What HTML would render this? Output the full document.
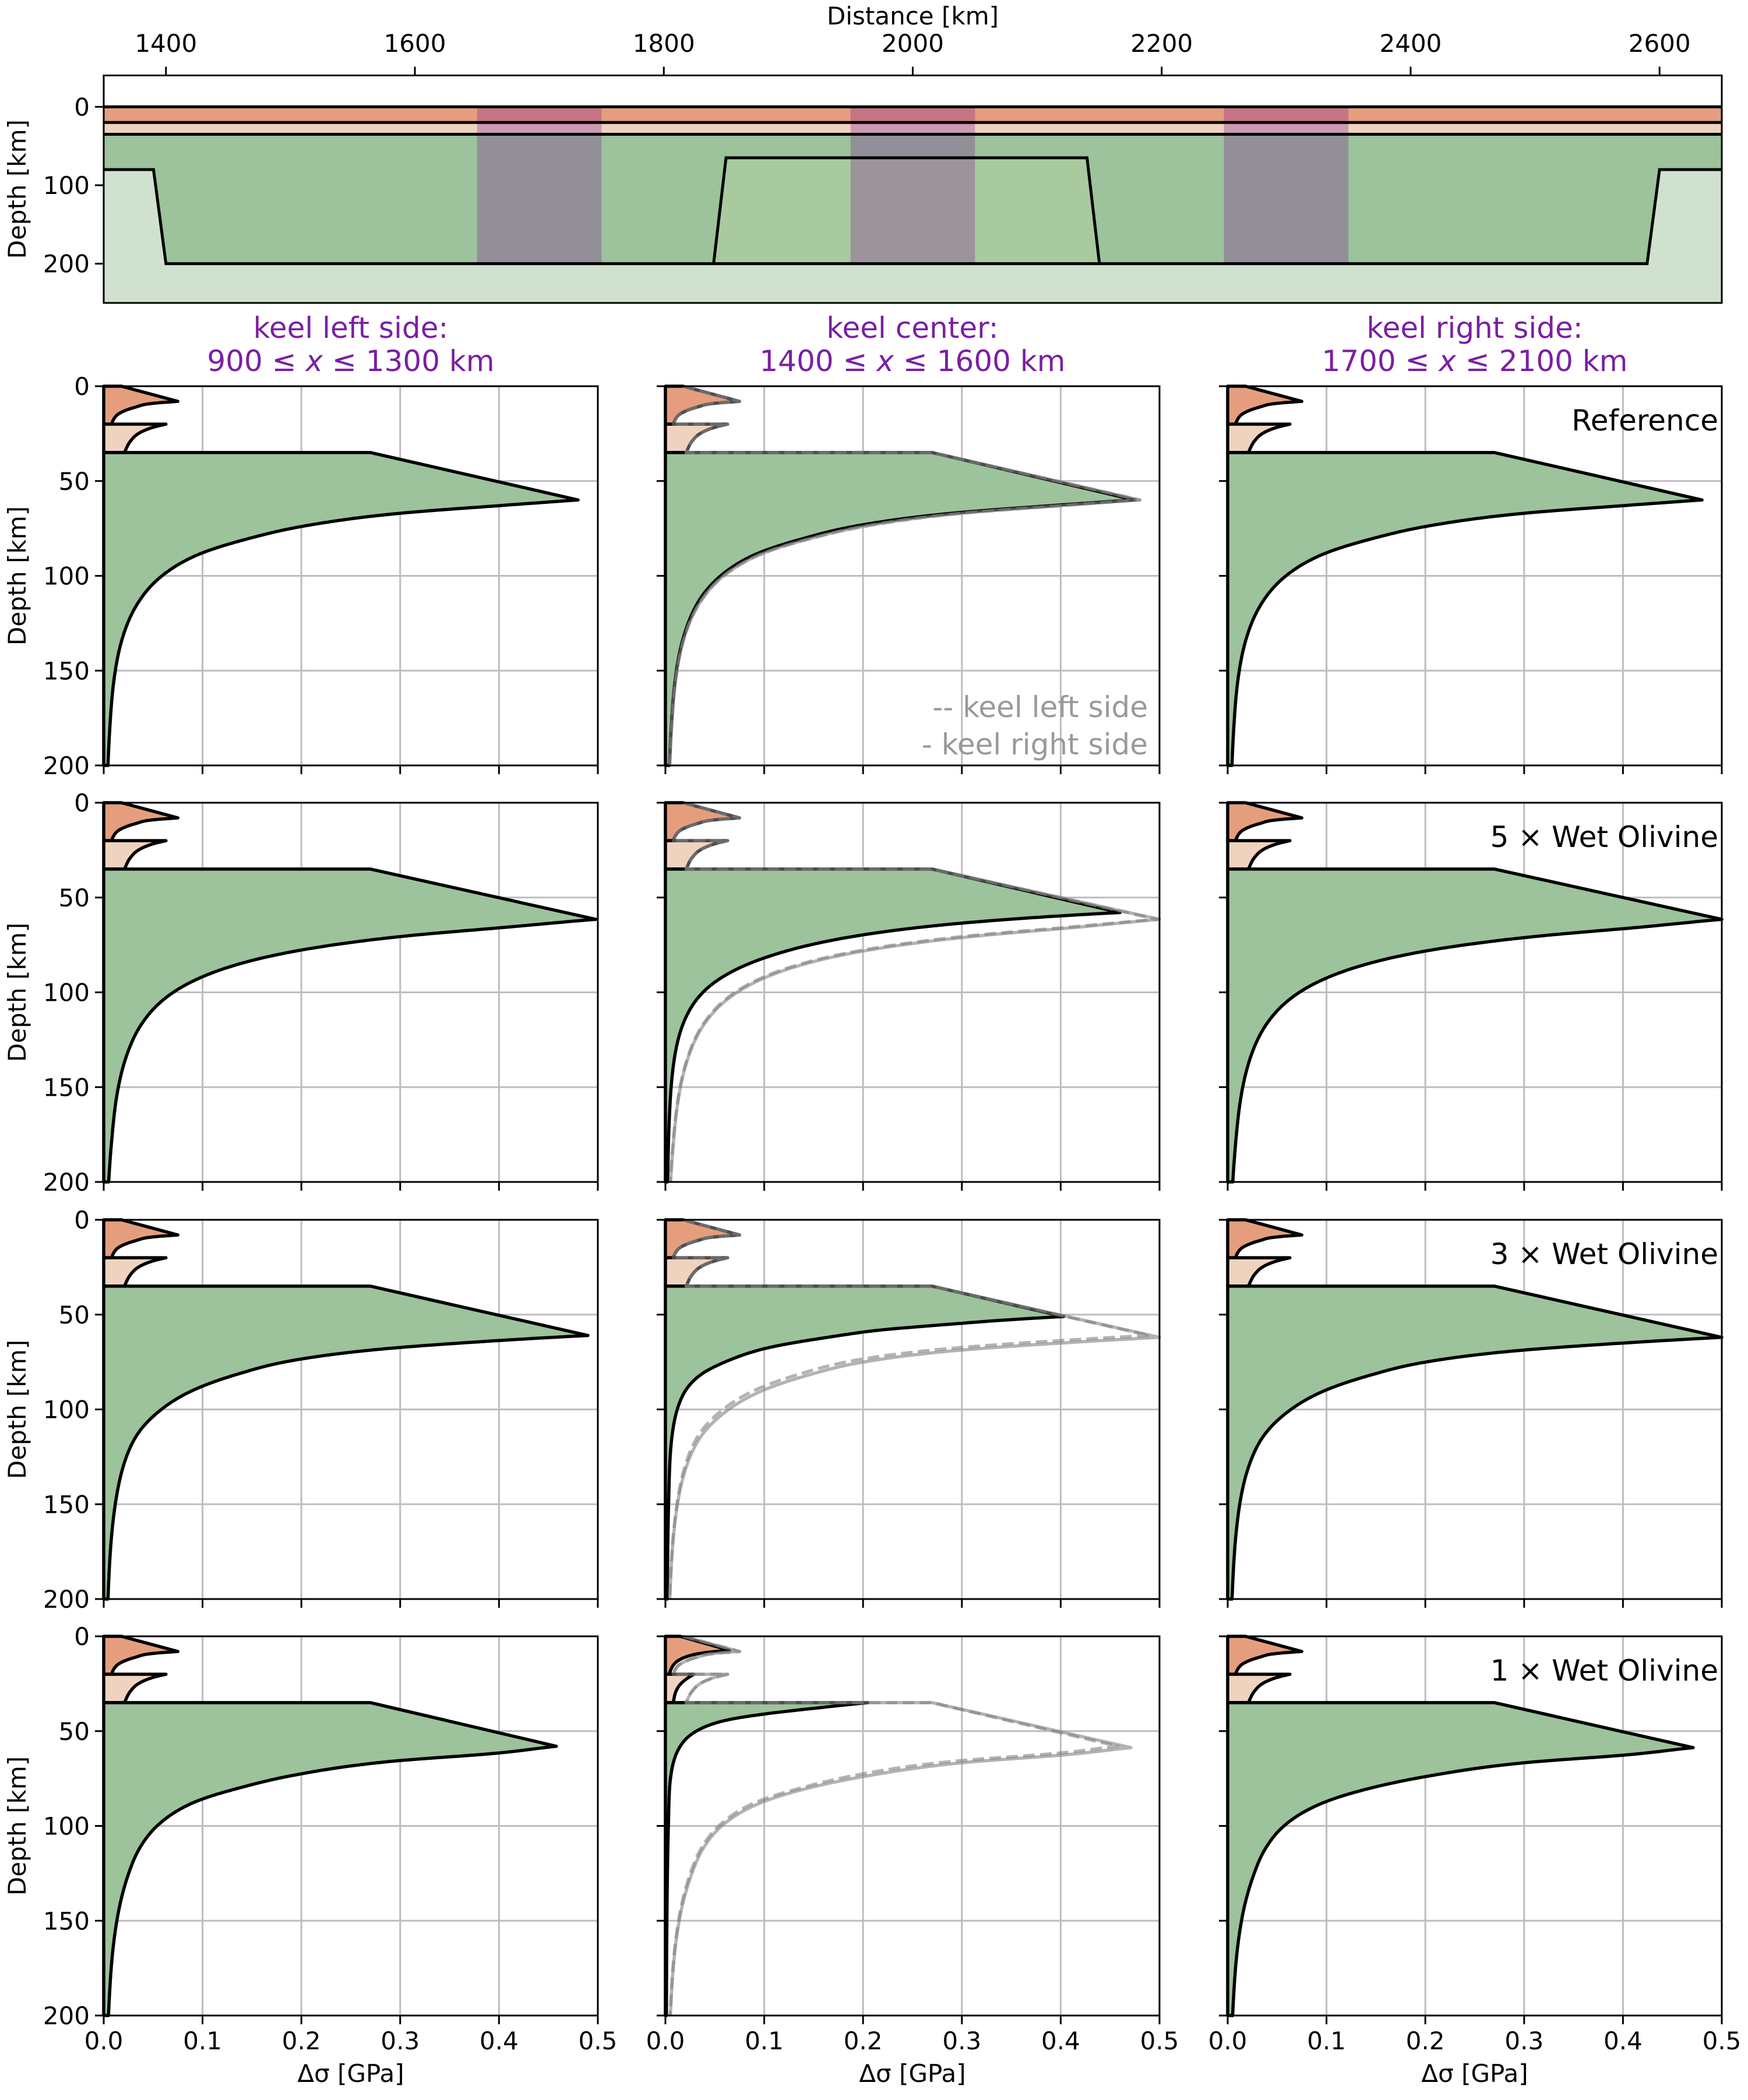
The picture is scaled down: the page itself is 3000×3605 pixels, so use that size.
<!DOCTYPE html>
<html><head><meta charset="utf-8">
<style>
html,body{margin:0;padding:0;background:#fff;}
svg text{font-family:"DejaVu Sans","Liberation Sans",sans-serif;}
</style></head>
<body>
<svg id="fig" xmlns="http://www.w3.org/2000/svg" width="3000" height="3600" viewBox="0 0 3000 3600"></svg>
<script>
// ---------- DATA ----------
const topXTicks = [1400,1600,1800,2000,2200,2400,2600];
const topYTicks = [0,100,200];
const layerBounds = [0,20,35];
const keelX = [1350,1390,1400,1840,1850,2140,2150,2590,2600,2650];
const keelD = [80,80,200,200,65,65,200,200,80,80];
const bandStart = [1650,1950,2250];
const bandEnd = [1750,2050,2350];
const xTicks = [0.0,0.1,0.2,0.3,0.4,0.5];
const xTickLabels = ['0.0','0.1','0.2','0.3','0.4','0.5'];
const yTicks = [0,50,100,150,200];
const colTitles1 = ['keel left side:','keel center:','keel right side:'];
const colRangeLo = ['900','1400','1700'];
const colRangeHi = ['1300','1600','2100'];
const rowLabels = ['Reference','5 × Wet Olivine','3 × Wet Olivine','1 × Wet Olivine'];
// crust profiles (depth km, stress GPa)
const upD = [0,8,9.4,10.9,13,15,17.5,20];
const upV = [0.018,0.075,0.044,0.033,0.021,0.014,0.010,0.008];
const loD = [20,22,25,29,35];
const loV = [0.063,0.048,0.035,0.027,0.021];
const up1cD = [0,7.4,9,11,14,17,20];
const up1cV = [0.015,0.065,0.035,0.020,0.010,0.006,0.004];
const lo1cD = [20,23,26,30,35];
const lo1cV = [0.029,0.020,0.014,0.010,0.008];
// mantle profiles
const refD = [35,60,63,67,74,81,88.5,100,114,128,142,160,180,200];
const refSideV = [0.27,0.48,0.40,0.30,0.20,0.142,0.097,0.059,0.035,0.022,0.0145,0.0092,0.0062,0.0043];
const refCenV = [0.27,0.475,0.39,0.29,0.19,0.135,0.092,0.056,0.033,0.021,0.0138,0.0088,0.0059,0.0041];
const r5D = [35,61.5,66,70.6,77.7,92,102,116.6,136,155,181,200];
const r5LeftV = [0.27,0.498,0.40,0.30,0.20,0.099,0.065,0.0385,0.0215,0.0131,0.0076,0.005];
const r5RightV = [0.27,0.50,0.41,0.31,0.206,0.102,0.067,0.0395,0.022,0.0135,0.0078,0.0052];
const r5CenD = [35,57.9,60,63.5,68.9,74,81,87.6,100,114,128,150,170,200];
const r5CenV = [0.27,0.46,0.39,0.30,0.21,0.155,0.105,0.073,0.038,0.020,0.0115,0.0058,0.0037,0.0022];
const r3RightD = [35,62,65,70,76,82,92,102,115,129,150,170,200];
const r3RightV = [0.27,0.50,0.40,0.273,0.19,0.144,0.09,0.059,0.035,0.022,0.0122,0.0077,0.0044];
const r3LeftD = [35,61,64,69,75,81,91,101,114,128,150,170,200];
const r3LeftV = [0.27,0.49,0.39,0.265,0.183,0.138,0.086,0.056,0.033,0.021,0.0117,0.0074,0.0043];
const r3CenD = [35,51,53,55.4,58,62,68,75.5,82,88.8,100,120,150,200];
const r3CenV = [0.27,0.403,0.34,0.28,0.22,0.164,0.10,0.058,0.035,0.022,0.012,0.0055,0.0032,0.0018];
const r1RightD = [35,58.7,62.7,66.7,74,80,87.3,100,113,127,150,170,200];
const r1RightV = [0.27,0.471,0.40,0.30,0.20,0.145,0.099,0.057,0.037,0.0255,0.0140,0.0088,0.0050];
const r1LeftD = [35,58,62,66,73.5,80,87,100,113,127,150,170,200];
const r1LeftV = [0.27,0.458,0.39,0.29,0.19,0.137,0.094,0.054,0.035,0.024,0.0133,0.0084,0.0048];
const r1CenD = [35,38,41,44.2,50.4,59.8,75.5,100,150,200];
const r1CenV = [0.205,0.15,0.10,0.062,0.030,0.013,0.005,0.003,0.0015,0.001];

// ---------- LAYOUT ----------
const NS='http://www.w3.org/2000/svg';
const svg=document.getElementById('fig');
function mk(parent,tag,attrs){const e=document.createElementNS(NS,tag);for(const k in attrs)e.setAttribute(k,attrs[k]);parent.appendChild(e);return e;}
const C_UP='#e49e7e',C_LO='#f0d3bf',C_MA='#9cc39b',C_LIGHT='#d0e2cf',C_KEEL='#a9c99f',C_BAND='rgba(126,25,148,0.306)';
const GRID='#bdbdbd';

const TL=178,TR=2955,TT=129.5,TB=520;
const tx=v=>TL+(v-1350)/1300*(TR-TL);
const ty=d=>TT+(d+40)/290*(TB-TT);
const topG=mk(svg,'g',{});


let e;
e=mk(topG,'rect',{x:TL,y:ty(0),width:TR-TL,height:ty(20)-ty(0),fill:C_UP});


e=mk(topG,'rect',{x:TL,y:ty(20),width:TR-TL,height:ty(35)-ty(20),fill:C_LO});


e=mk(topG,'rect',{x:TL,y:ty(35),width:TR-TL,height:TB-ty(35),fill:C_MA});


let pts=keelX.map((x,i)=>tx(x)+','+ty(keelD[i])).join(' ')+' '+tx(2650)+','+TB+' '+tx(1350)+','+TB;
e=mk(topG,'polygon',{points:pts,fill:C_LIGHT});


pts=[3,4,5,6].map(i=>tx(keelX[i])+','+ty(keelD[i])).join(' ');
e=mk(topG,'polygon',{points:pts,fill:C_KEEL});


for(let i=0;i<bandStart.length;i++){
  e=mk(topG,'rect',{x:tx(bandStart[i]),y:ty(0),width:tx(bandEnd[i])-tx(bandStart[i]),height:ty(200)-ty(0),fill:C_BAND});
  
  
}
for(const d of layerBounds){
  e=mk(topG,'line',{x1:TL,x2:TR,y1:ty(d),y2:ty(d),stroke:'#000','stroke-width':5});
  
  
}
e=mk(topG,'polyline',{points:keelX.map((x,i)=>tx(x)+','+ty(keelD[i])).join(' '),fill:'none',stroke:'#000','stroke-width':5});


e=mk(topG,'line',{x1:tx(1840),x2:tx(2150),y1:ty(200),y2:ty(200),stroke:'#000','stroke-width':5});


e=mk(topG,'rect',{x:TL,y:TT,width:TR-TL,height:TB-TT,fill:'none',stroke:'#000','stroke-width':3});


for(const v of topXTicks){
  e=mk(topG,'line',{x1:tx(v),x2:tx(v),y1:TT,y2:TT-15,stroke:'#000','stroke-width':3});
  
  
  e=mk(topG,'text',{x:tx(v),y:89,'font-size':42,'text-anchor':'middle'});
  e.textContent=v;
  
  
}
for(const d of topYTicks){
  e=mk(topG,'line',{x1:TL,x2:TL-15,y1:ty(d),y2:ty(d),stroke:'#000','stroke-width':3});
  
  
  e=mk(topG,'text',{x:TL-24,y:ty(d)+15,'font-size':42,'text-anchor':'end'});
  e.textContent=d;
  
  
}
e=mk(topG,'text',{x:(TL+TR)/2,y:42,'font-size':42,'text-anchor':'middle'});
e.textContent='Distance [km]';


e=mk(topG,'text',{x:0,y:0,'font-size':42,'text-anchor':'middle',transform:'translate(44,'+((TT+TB)/2)+') rotate(-90)'});
e.textContent='Depth [km]';



// ---------- PROFILE PANELS ----------
const colLeft=[178,1142,2107], rowTop=[663,1378,2094,2809], PW=848, PH=651;
const colNames=['left','center','right'];
for(let c=0;c<3;c++){
  const cx=colLeft[c]+PW/2;
  e=mk(svg,'text',{x:cx,y:580,'font-size':50,'text-anchor':'middle',fill:'#7b1fa2'});
  e.textContent=colTitles1[c];
  
  
  e=mk(svg,'text',{x:cx,y:637,'font-size':50,'text-anchor':'middle',fill:'#7b1fa2'});
  const t1=mk(e,'tspan',{});t1.textContent=colRangeLo[c]+' ≤ ';
  const t2=mk(e,'tspan',{'font-style':'italic'});t2.textContent='x';
  const t3=mk(e,'tspan',{});t3.textContent=' ≤ '+colRangeHi[c]+' km';
  
  
}

// monotone (Fritsch-Carlson) interpolation of ln(value) vs depth
function monoSample(D,V){
  const n=D.length, L=V.map(v=>Math.log(v));
  if(n<2) return [[V[0],D[0]]];
  const dk=[],h=[];
  for(let i=0;i<n-1;i++){h.push(D[i+1]-D[i]);dk.push((L[i+1]-L[i])/h[i]);}
  const m=new Array(n);
  m[0]=dk[0];m[n-1]=dk[n-2];
  for(let i=1;i<n-1;i++){ m[i]=(dk[i-1]*dk[i]<=0)?0:(h[i]*dk[i-1]+h[i-1]*dk[i])/(h[i-1]+h[i]); }
  for(let i=0;i<n-1;i++){
    if(dk[i]===0){m[i]=0;m[i+1]=0;continue;}
    const a=m[i]/dk[i],b=m[i+1]/dk[i],s=a*a+b*b;
    if(s>9){const t=3/Math.sqrt(s);m[i]=t*a*dk[i];m[i+1]=t*b*dk[i];}
  }
  const out=[];
  for(let i=0;i<n-1;i++){
    const steps=Math.max(2,Math.ceil(h[i]/0.4));
    for(let s=0;s<steps;s++){
      const t=s/steps,t2=t*t,t3=t2*t;
      const y=(2*t3-3*t2+1)*L[i]+(t3-2*t2+t)*h[i]*m[i]+(-2*t3+3*t2)*L[i+1]+(t3-t2)*h[i]*m[i+1];
      out.push([Math.exp(y),D[i]+t*h[i]]);
    }
  }
  out.push([V[n-1],D[n-1]]);
  return out;
}
function layerPts(Ly,X,Y){
  const p=[];
  for(let i=0;i<Ly.from;i++) p.push([X(Ly.V[i]),Y(Ly.D[i])]);
  const s=monoSample(Ly.D.slice(Ly.from),Ly.V.slice(Ly.from));
  for(const q of s) p.push([X(q[0]),Y(q[1])]);
  return p;
}
function pstr(p){return p.map(q=>q[0].toFixed(1)+','+q[1].toFixed(1)).join(' L');}
function layer(D,V,from){return {D:D,V:V,from:from};}
const sideUp=layer(upD,upV,1), sideLo=layer(loD,loV,0);
const profiles=[
 {L:[sideUp,sideLo,layer(refD,refSideV,1)],C:[sideUp,sideLo,layer(refD,refCenV,1)],R:[sideUp,sideLo,layer(refD,refSideV,1)]},
 {L:[sideUp,sideLo,layer(r5D,r5LeftV,1)],C:[sideUp,sideLo,layer(r5CenD,r5CenV,1)],R:[sideUp,sideLo,layer(r5D,r5RightV,1)]},
 {L:[sideUp,sideLo,layer(r3LeftD,r3LeftV,1)],C:[sideUp,sideLo,layer(r3CenD,r3CenV,1)],R:[sideUp,sideLo,layer(r3RightD,r3RightV,1)]},
 {L:[sideUp,sideLo,layer(r1LeftD,r1LeftV,1)],C:[layer(up1cD,up1cV,1),layer(lo1cD,lo1cV,0),layer(r1CenD,r1CenV,0)],R:[sideUp,sideLo,layer(r1RightD,r1RightV,1)]}
];
const fills=[C_UP,C_LO,C_MA], layerNames=['upper-crust','lower-crust','mantle'];

for(let r=0;r<4;r++){
  for(let c=0;c<3;c++){
    const x0=colLeft[c], y0=rowTop[r];
    const X=v=>x0+v/0.5*PW, Y=d=>y0+d/200*PH;
    const g=mk(svg,'g',{});
    
    
    for(const v of xTicks.slice(1,-1)){
      e=mk(g,'line',{x1:X(v),x2:X(v),y1:y0,y2:y0+PH,stroke:GRID,'stroke-width':3});
      
      
    }
    for(const d of yTicks.slice(1,-1)){
      e=mk(g,'line',{x1:x0,x2:x0+PW,y1:Y(d),y2:Y(d),stroke:GRID,'stroke-width':3});
      
      
    }
    const prof = c===0?profiles[r].L:(c===1?profiles[r].C:profiles[r].R);
    for(let k=0;k<3;k++){
      const Ly=prof[k];
      const p=layerPts(Ly,X,Y);
      const top=Ly.D[0], bot=Ly.D[Ly.D.length-1];
      const dstr='M'+X(0)+','+Y(top)+' L'+pstr(p)+' L'+X(0)+','+Y(bot)+' Z';
      e=mk(g,'path',{d:dstr,fill:fills[k],stroke:'#000','stroke-width':5.5,'stroke-linejoin':'round'});
      
      
    }
    if(c===1){
      const refs=[[profiles[r].L,'keel-left-dashed','20,9'],[profiles[r].R,'keel-right-solid','none']];
      for(const [pr,nm,da] of refs){
        let all=[];
        pr.forEach(Ly=>{all=all.concat(layerPts(Ly,X,Y));});
        e=mk(g,'path',{d:'M'+pstr(all),fill:'none',stroke:'rgba(128,128,128,0.6)','stroke-width':5.5,'stroke-dasharray':da,'stroke-linejoin':'round'});
        
        
      }
    }
    e=mk(g,'rect',{x:x0,y:y0,width:PW,height:PH,fill:'none',stroke:'#000','stroke-width':3});
    
    
    for(let i=0;i<xTicks.length;i++){
      e=mk(g,'line',{x1:X(xTicks[i]),x2:X(xTicks[i]),y1:y0+PH,y2:y0+PH+15,stroke:'#000','stroke-width':3});
      
      
      if(r===3){
        e=mk(g,'text',{x:X(xTicks[i]),y:y0+PH+58,'font-size':42,'text-anchor':'middle'});
        e.textContent=xTickLabels[i];
        
        
      }
    }
    for(const d of yTicks){
      e=mk(g,'line',{x1:x0,x2:x0-15,y1:Y(d),y2:Y(d),stroke:'#000','stroke-width':3});
      
      
      if(c===0){
        e=mk(g,'text',{x:x0-24,y:Y(d)+15,'font-size':42,'text-anchor':'end'});
        e.textContent=d;
        
        
      }
    }
    if(c===0){
      e=mk(g,'text',{x:0,y:0,'font-size':42,'text-anchor':'middle',transform:'translate(44,'+(y0+PH/2)+') rotate(-90)'});
      e.textContent='Depth [km]';
      
      
    }
    if(r===3){
      e=mk(g,'text',{x:x0+PW/2,y:y0+PH+114,'font-size':42,'text-anchor':'middle'});
      e.textContent='Δσ [GPa]';
      
      
    }
    if(c===2){
      e=mk(g,'text',{x:x0+PW-6,y:y0+76,'font-size':50,'text-anchor':'end'});
      e.textContent=rowLabels[r];
      
      
    }
    if(r===0&&c===1){
      e=mk(g,'text',{x:x0+PW-20,y:y0+568,'font-size':50,'text-anchor':'end',fill:'#999'});
      e.textContent='-- keel left side';
      
      
      e=mk(g,'text',{x:x0+PW-20,y:y0+632,'font-size':50,'text-anchor':'end',fill:'#999'});
      e.textContent='- keel right side';
      
      
    }
  }
}
</script>
</body></html>
